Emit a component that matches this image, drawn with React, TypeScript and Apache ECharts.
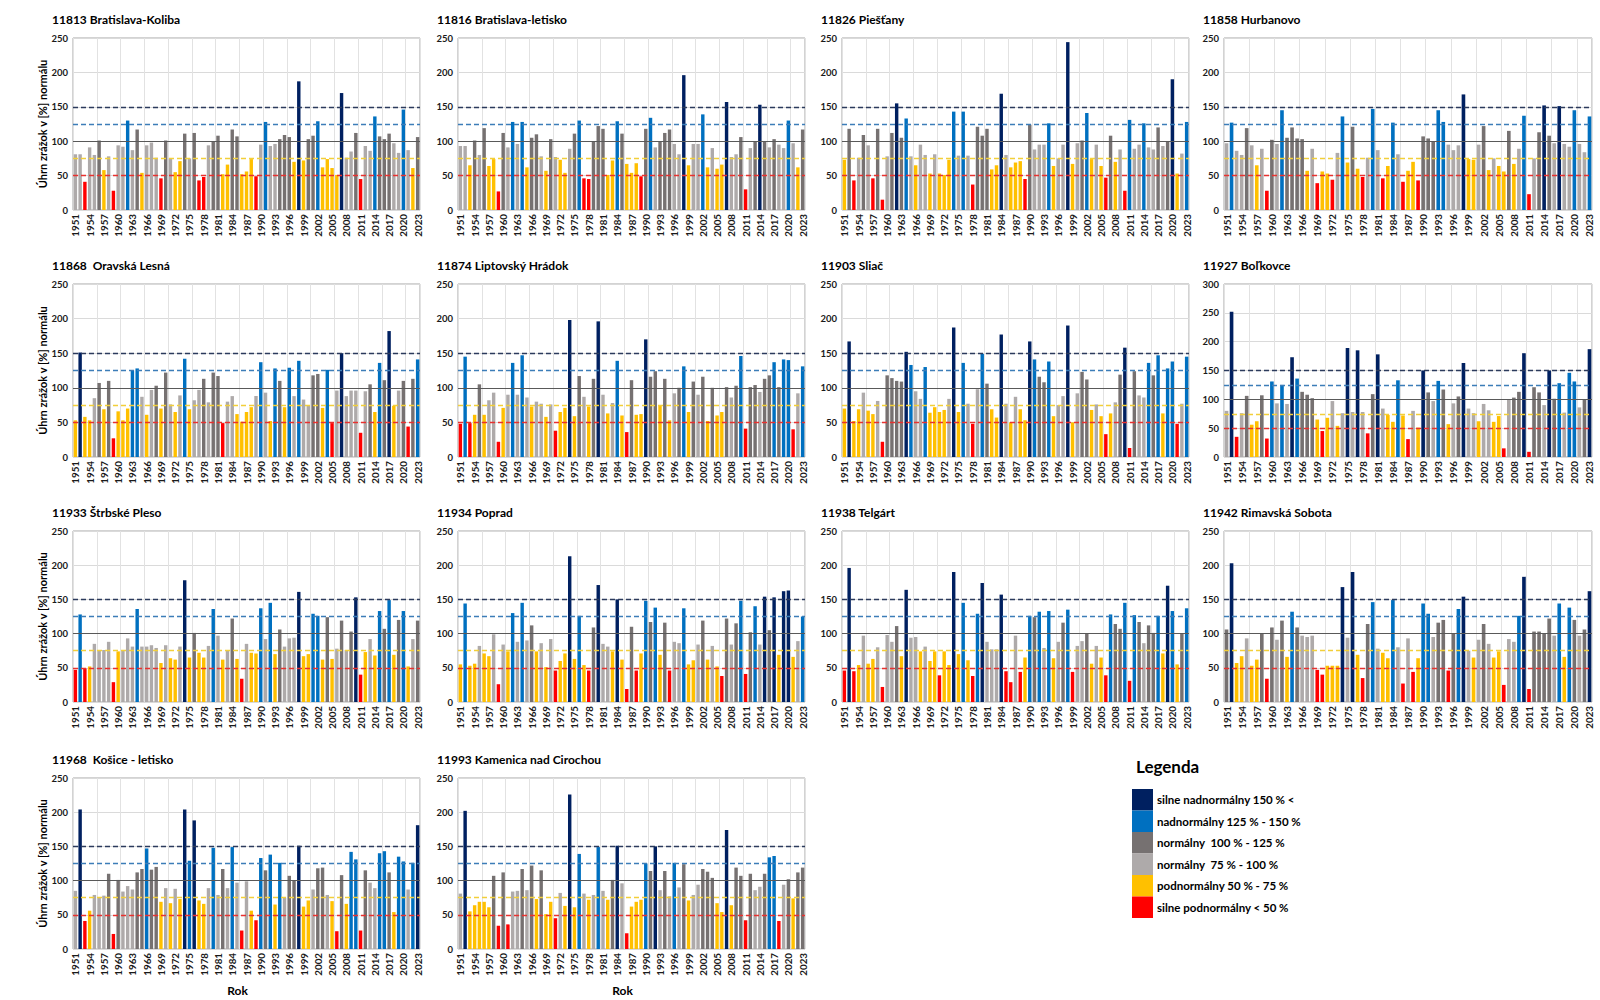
import React, { useEffect, useRef } from "react";
import * as echarts from "echarts";

const years: string[] = Array.from({ length: 73 }, (_, i) => String(1951 + i));

const stationNames = [
  "11813 Bratislava-Koliba",
  "11816 Bratislava-letisko",
  "11826 Piešťany",
  "11858 Hurbanovo",
  "11868  Oravská Lesná",
  "11874 Liptovský Hrádok",
  "11903 Sliač",
  "11927 Boľkovce",
  "11933 Štrbské Pleso",
  "11934 Poprad",
  "11938 Telgárt",
  "11942 Rimavská Sobota",
  "11968  Košice - letisko",
  "11993 Kamenica nad Cirochou",
];

const koliba = [81,81,41,91,80,101,58,78,28,94, 92,130,87,117,54,94,98,76,46,101, 75,55,71,111,75,112,43,48,94,100, 108,52,66,117,107,52,56,74,49,95, 128,93,96,103,109,106,70,187,72,103, 108,129,62,74,61,51,170,76,85,112, 45,93,86,136,107,103,111,97,83,146, 87,61,106];
const letisko = [93,93,65,101,80,119,64,74,27,112, 91,128,96,128,62,105,110,78,57,103, 77,73,54,89,111,130,46,45,100,122, 118,51,72,129,111,67,54,68,49,118, 134,91,100,112,117,96,81,196,65,96, 96,139,62,90,60,66,157,77,81,106, 30,90,100,153,100,91,103,95,90,130, 97,62,117];
const piestany = [73,118,43,76,109,94,46,118,15,78, 112,155,105,133,78,65,95,80,53,81, 53,51,73,143,79,143,79,37,121,108, 118,59,65,169,80,62,69,71,45,124, 88,95,95,126,64,75,95,244,67,97, 101,141,74,95,64,47,108,70,88,28, 131,89,95,126,91,88,120,93,100,190, 53,82,128];
const hurbanovo = [97,127,86,80,119,94,65,89,28,102, 96,145,105,120,104,103,57,89,39,56, 53,44,83,136,69,121,60,48,76,147, 87,46,64,127,81,41,57,70,43,107, 104,100,145,128,95,87,94,168,74,73, 95,122,58,75,64,56,115,67,89,137, 23,75,113,152,108,97,151,96,92,145, 96,84,136];
const oravska = [53,151,58,53,85,107,69,110,27,66, 53,70,125,128,87,61,97,103,70,122, 76,65,89,142,69,82,97,113,79,122, 117,49,80,88,62,51,65,72,88,137, 93,52,128,110,72,129,88,139,83,75, 118,120,71,126,49,96,150,88,96,96, 35,95,105,65,136,111,182,74,96,110, 44,113,141];
const liptovsky = [48,145,49,61,105,61,82,93,22,71, 90,136,90,147,86,73,80,77,58,76, 38,65,71,198,59,117,87,73,113,196, 90,63,78,139,60,36,111,61,62,170, 116,124,74,113,53,92,100,131,65,109, 90,116,52,100,60,65,101,86,103,146, 41,101,104,94,113,118,137,101,141,140, 40,92,131];
const sliac = [70,167,52,69,93,67,62,81,22,118, 114,110,109,152,133,95,84,130,64,72, 65,68,84,187,65,136,77,48,98,149, 106,69,57,177,77,50,87,69,53,167, 141,116,108,138,59,75,88,190,50,92, 123,112,68,76,59,33,63,79,119,158, 13,124,89,86,136,118,147,63,128,138, 48,77,145];
const borkovce = [80,252,35,76,106,56,62,107,32,131, 93,125,92,173,136,113,108,102,65,45, 68,97,54,76,189,78,185,78,41,109, 178,84,73,61,133,72,31,80,51,150, 112,97,132,117,57,93,105,163,84,76, 62,92,81,61,71,15,99,103,113,180, 9,121,112,90,150,101,128,77,146,131, 86,100,187];
const strbske = [47,128,49,52,85,75,76,88,29,74, 76,93,81,136,81,81,83,79,57,83, 64,62,81,178,65,101,72,65,82,136, 97,62,76,122,63,34,85,72,71,137, 92,145,70,106,81,93,94,161,67,70, 129,126,62,124,63,78,119,76,103,153, 40,73,92,68,133,107,149,69,120,133, 52,92,119];
const poprad = [55,144,53,56,82,71,67,99,26,84, 74,130,88,145,90,112,74,86,51,92, 46,60,71,213,63,126,54,46,109,171, 85,81,74,150,62,19,110,46,71,148, 117,138,69,116,46,88,86,137,55,61, 84,119,62,82,52,38,122,84,115,148, 41,102,140,84,154,105,153,69,162,163, 66,89,125];
const telgart = [46,196,45,54,97,56,63,80,22,98, 88,111,67,164,94,95,74,81,60,74, 39,74,54,190,70,145,61,38,129,174, 88,77,77,157,45,29,97,44,65,126, 124,132,79,133,64,88,116,135,44,82, 89,100,56,82,65,39,128,114,107,145, 31,127,117,86,112,101,126,71,170,133, 55,100,137];
const rimavska = [106,203,57,67,93,53,62,100,34,109, 91,119,66,132,109,97,95,97,47,40, 53,53,53,168,94,190,69,35,114,146, 78,72,64,149,80,27,93,44,64,144, 129,95,116,120,46,100,136,154,75,65, 91,114,85,65,74,25,92,88,126,183, 19,103,103,100,122,97,144,66,138,120, 97,106,162];
const kosice = [85,204,41,56,79,76,78,110,22,101, 84,92,87,112,117,147,116,120,69,89, 67,88,73,204,129,188,71,66,89,148, 79,117,89,149,97,27,99,56,42,133, 115,138,65,126,75,107,100,151,62,71, 87,118,119,79,70,26,108,66,142,131, 27,115,97,89,140,143,112,54,135,128, 87,126,181];
const kamenica = [81,202,55,64,69,69,61,107,34,112, 36,84,85,117,86,122,73,115,51,69, 45,82,63,226,61,139,81,72,79,149, 85,72,101,151,96,23,62,69,72,125, 114,150,86,114,77,126,90,124,71,79, 94,117,113,104,67,54,174,64,119,107, 42,110,86,91,110,134,136,41,94,102, 74,112,119];

const stationValues = [koliba, letisko, piestany, hurbanovo, oravska, liptovsky, sliac, borkovce, strbske, poprad, telgart, rimavska, kosice, kamenica];
const yMaxes = [250, 250, 250, 250, 250, 250, 250, 300, 250, 250, 250, 250, 250, 250];

const legendLabels = [
  "silne nadnormálny 150 % <",
  "nadnormálny 125 % - 150 %",
  "normálny  100 % - 125 %",
  "normálny  75 % - 100 %",
  "podnormálny 50 % - 75 %",
  "silne podnormálny < 50 %",
];
const legendColors = ["#002060", "#0070C0", "#767171", "#AEAAAA", "#FFC000", "#FF0000"];

const yTitle = "Úhrn zrážok v [%] normálu";
const xTitle = "Rok";

const FONT = 'Lato, "Noto Sans", sans-serif';

const colLeft = [73, 458, 842, 1224];
const colWidth = [347, 347, 347, 368];
const rowTop = [38, 284, 531, 778];
const rowBottom = [210, 457, 702, 949];

function colorFor(v: number): string {
  if (v >= 150) return legendColors[0];
  if (v >= 125) return legendColors[1];
  if (v >= 100) return legendColors[2];
  if (v >= 75) return legendColors[3];
  if (v >= 50) return legendColors[4];
  return legendColors[5];
}

function buildOption(): any {
  const grids: any[] = [];
  const xAxes: any[] = [];
  const yAxes: any[] = [];
  const series: any[] = [];
  const graphics: any[] = [];

  stationValues.forEach((vals, i) => {
    const r = Math.floor(i / 4);
    const c = i % 4;
    const top = rowTop[r];
    const height = rowBottom[r] - rowTop[r];
    grids.push({
      left: colLeft[c],
      top,
      width: colWidth[c],
      height,
      show: true,
      borderColor: "#a6a6a6",
      borderWidth: 1,
      backgroundColor: "transparent",
      containLabel: false,
      outerBoundsMode: "none",
    });
    xAxes.push({
      type: "category",
      gridIndex: i,
      data: years,
      boundaryGap: true,
      axisLine: { show: false },
      axisTick: { show: false },
      axisLabel: {
        interval: 2,
        rotate: 90,
        fontSize: 9.8,
        fontWeight: "bold",
        fontFamily: FONT,
        color: "#1a1a1a",
        margin: 4,
      },
      splitLine: { show: true, interval: 4, lineStyle: { color: "#e2e2e2", width: 1 } },
    });
    yAxes.push({
      type: "value",
      gridIndex: i,
      min: 0,
      max: yMaxes[i],
      interval: 50,
      axisLine: { show: false },
      axisTick: { show: false },
      axisLabel: {
        fontSize: 9.5,
        fontWeight: "bold",
        fontFamily: FONT,
        color: "#1a1a1a",
        margin: 5,
      },
      splitLine: { show: true, lineStyle: { color: "#dadada", width: 1 } },
    });
    series.push({
      type: "bar",
      xAxisIndex: i,
      yAxisIndex: i,
      data: vals,
      barCategoryGap: "28%",
      itemStyle: { color: (p: any) => colorFor(p.value) },
      silent: true,
      markLine: {
        silent: true,
        symbol: ["none", "none"],
        label: { show: false },
        z: 5,
        data: [
          { yAxis: 150, lineStyle: { color: "#2B3A5C", type: [5, 3], width: 1.4 } },
          { yAxis: 125, lineStyle: { color: "#3C7DB8", type: [5, 3], width: 1.4 } },
          { yAxis: 100, lineStyle: { color: "#595959", type: "solid", width: 1 } },
          { yAxis: 75, lineStyle: { color: "#F2CF3A", type: [5, 3], width: 1.4 } },
          { yAxis: 50, lineStyle: { color: "#E8312F", type: [5, 3], width: 1.4 } },
        ],
      },
    });

    graphics.push({
      type: "text",
      x: colLeft[c] - 21,
      y: top - 19,
      style: {
        text: stationNames[i],
        fontSize: 12,
        fontWeight: "bold",
        fontFamily: FONT,
        fill: "#000",
        textAlign: "left",
        textVerticalAlign: "middle",
      },
    });

    if (c === 0) {
      graphics.push({
        type: "text",
        x: 42,
        y: (top + rowBottom[r]) / 2,
        rotation: Math.PI / 2,
        style: {
          text: yTitle,
          fontSize: 11,
          fontWeight: "bold",
          fontFamily: FONT,
          fill: "#000",
          textAlign: "center",
          textVerticalAlign: "middle",
        },
      });
    }
    if (r === 3) {
      graphics.push({
        type: "text",
        x: colLeft[c] + colWidth[c] / 2 - 9,
        y: 990,
        style: {
          text: xTitle,
          fontSize: 12,
          fontWeight: "bold",
          fontFamily: FONT,
          fill: "#000",
          textAlign: "center",
          textVerticalAlign: "middle",
        },
      });
    }
  });

  graphics.push({
    type: "text",
    x: 1136,
    y: 766,
    style: {
      text: "Legenda",
      fontSize: 17,
      fontWeight: "bold",
      fontFamily: FONT,
      fill: "#000",
      textAlign: "left",
      textVerticalAlign: "middle",
    },
  });
  legendLabels.forEach((lab, k) => {
    const y0 = 789 + k * 21.5;
    graphics.push({
      type: "rect",
      shape: { x: 1132, y: y0, width: 21, height: 21.5 },
      style: { fill: legendColors[k] },
    });
    graphics.push({
      type: "text",
      x: 1157,
      y: y0 + 10.75,
      style: {
        text: lab,
        fontSize: 11.5,
        fontWeight: "bold",
        fontFamily: FONT,
        fill: "#000",
        textAlign: "left",
        textVerticalAlign: "middle",
      },
    });
  });

  return {
    animation: false,
    backgroundColor: "#ffffff",
    grid: grids,
    xAxis: xAxes,
    yAxis: yAxes,
    series,
    graphic: graphics,
  };
}

export default function App() {
  const ref = useRef<HTMLDivElement>(null);
  useEffect(() => {
    if (!ref.current) return;
    const chart = echarts.init(ref.current, undefined, { renderer: "svg" });
    chart.setOption(buildOption());
    return () => {
      chart.dispose();
    };
  }, []);
  return (
    <div
      ref={ref}
      style={{ position: "fixed", left: 0, top: 0, width: 1600, height: 1000, background: "#fff" }}
    />
  );
}
